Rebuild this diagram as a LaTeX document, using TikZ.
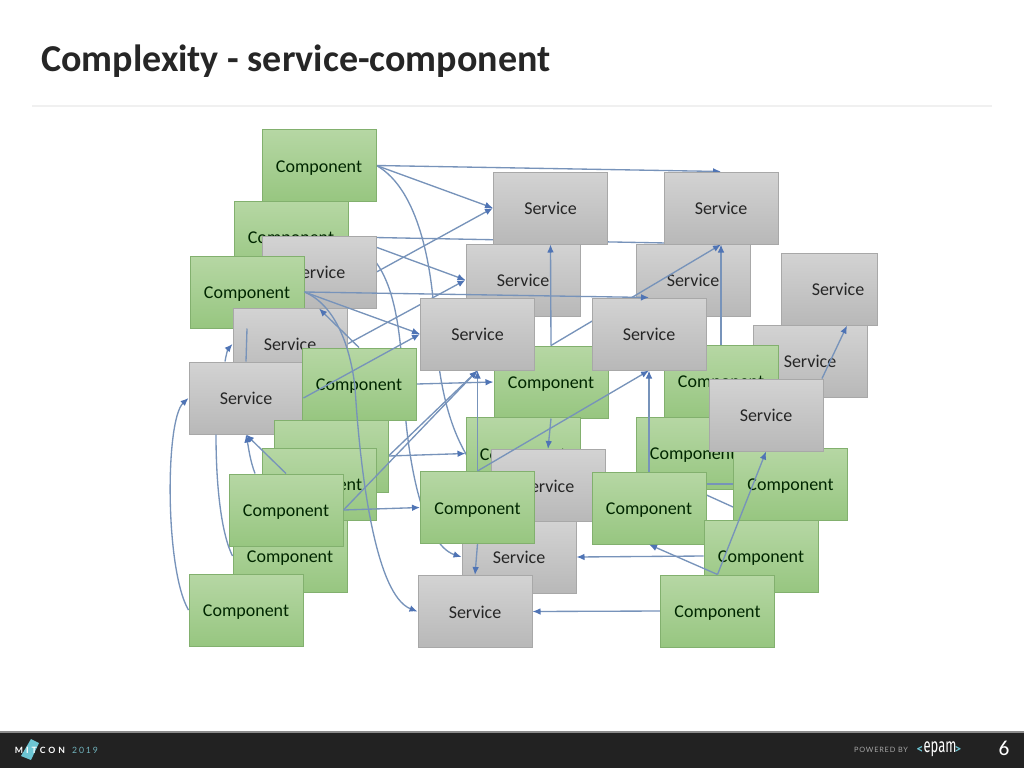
\documentclass[tikz,border=0pt]{standalone}
\usepackage{fontspec}
\setmainfont{Carlito}
\newfontfamily\footfont[LetterSpace=35]{Lato}
\newfontfamily\yearfont[LetterSpace=22]{Lato}
\newfontfamily\poweredfont[LetterSpace=11]{Lato}
\newfontfamily\epamfont[FakeStretch=0.65]{Fira Sans}
\usetikzlibrary{arrows.meta,calc}
\pgfdeclarelayer{paper}
\pgfdeclarelayer{lowlines}
\pgfdeclarelayer{backboxes}
\pgfdeclarelayer{midlines}
\pgfdeclarelayer{toplines}
\pgfsetlayers{paper,lowlines,backboxes,midlines,main,toplines}
\definecolor{linkblue}{HTML}{7793BA}
\definecolor{tipblue}{HTML}{4F74B5}
\definecolor{greentop}{HTML}{B6D7A4}
\definecolor{greenbot}{HTML}{97C680}
\definecolor{greenedge}{HTML}{82B06E}
\definecolor{greytop}{HTML}{D3D3D3}
\definecolor{greybot}{HTML}{B8B8B8}
\definecolor{greyedge}{HTML}{A8A8A8}
\definecolor{barcol}{HTML}{222222}
\definecolor{cyanmark}{HTML}{6CC5D3}
\tikzset{
  x=0.75pt,y=-0.75pt,
  box/.style={rectangle,draw,line width=0.75pt,inner sep=0pt,minimum width=85.5pt,minimum height=54pt,text height=10.8pt,text depth=0.7pt},
  comp/.style={box,draw=greenedge,top color=greentop,bottom color=greenbot,text=black!85!green,font=\fontsize{13.5pt}{16pt}\selectfont},
  serv/.style={box,draw=greyedge,top color=greytop,bottom color=greybot,text=black!85,font=\fontsize{13.5pt}{16pt}\selectfont},
  link/.style={draw=linkblue,line width=1pt},
  arr/.style={link,-{Latex[length=6pt,width=5pt,color=tipblue]}}
}
\begin{document}
\begin{tikzpicture}
\begin{pgfonlayer}{paper}
\path[use as bounding box,fill=white] (0,0) rectangle (1024,768);
\end{pgfonlayer}
% page furniture
\node[anchor=west,inner sep=0pt,text=black!85,font=\bfseries\fontsize{28.5pt}{32pt}\selectfont] (title) at (41,61) {Complexity - service-component};
\coordinate (ruleL) at (32,106);
\coordinate (ruleR) at (992,106);
\draw[line width=1.5pt,black!6] (ruleL) -- (ruleR);
\fill[barcol] (0,732) rectangle (1024,768);
\fill[black!45] (0,731) rectangle (1024,732.5);
\fill[cyanmark] (31,739) -- (39,743) -- (31,760) -- (21,756) -- cycle;
\node[text=white,font=\footfont\bfseries\fontsize{6.5pt}{8pt}\selectfont,inner sep=0pt] (mitcon) at (40,750) {MITCON};
\node[text=cyanmark!75!gray,font=\yearfont\fontsize{6.5pt}{8pt}\selectfont,inner sep=0pt] (year) at (85,750) {2019};
\node[text=black!35,font=\poweredfont\fontsize{5.5pt}{7pt}\selectfont,inner sep=0pt] (powered) at (881,750) {POWERED BY};
\node[text=cyanmark,font=\bfseries\fontsize{10pt}{12pt}\selectfont,inner sep=0pt] (ltip) at (920,750) {<};
\node[text=white,font=\epamfont\fontsize{15pt}{16pt}\selectfont,inner sep=0pt] (epam) at (940,749) {epam};
\node[text=cyanmark,font=\bfseries\fontsize{10pt}{12pt}\selectfont,inner sep=0pt] (rtip) at (958,750) {>};
\node[text=white,font=\fontsize{16pt}{18pt}\selectfont,inner sep=0pt] (page) at (1004,748) {6};
% boxes behind the middle connectors
\begin{pgfonlayer}{backboxes}
\node[serv] (s7) at (693,280) {Service};
\node[comp] (c13) at (693,453) {Component};
\end{pgfonlayer}
% remaining boxes
\node[comp] (c1) at (319,165.5) {Component};
\node[comp] (c2) at (291,237) {Component};
\node[serv] (s1) at (319,272) {Service};
\node[comp] (c3) at (247,292) {Component};
\node[serv] (s2) at (290,344) {Service};
\node[serv] (s3) at (246,398) {Service};
\node[comp] (c4) at (359,384) {Component};
\node[comp] (c5) at (331,456) {Component};
\node[comp] (c6) at (319,484) {Component};
\node[comp] (c8) at (290,556) {Component};
\node[comp] (c7) at (286,510) {Component};
\node[comp] (c9) at (246,610) {Component};
\node[serv] (s6) at (523,280) {Service};
\node[serv] (s4) at (550.5,208) {Service};
\node[serv] (s5) at (721,208) {Service};
\node[serv,minimum width=72pt] (s8) at (829,289) {\hspace*{13.5pt}Service};
\node[serv] (s9) at (810,361) {Service};
\node[comp] (c10) at (551,382) {Component};
\node[comp] (c11) at (721,381) {Component};
\node[serv] (s10) at (477.5,334) {Service};
\node[serv] (s11) at (649,334) {Service};
\node[comp] (c12) at (523,453.5) {Component};
\node[comp] (c14) at (790.5,484) {Component};
\node[serv] (s12) at (766,415) {Service};
\node[serv] (s13) at (548,485.5) {Service};
\node[serv] (s14) at (519,557) {Service};
\node[comp] (c15) at (477.5,507.5) {Component};
\node[comp] (c16) at (649,508) {Component};
\node[comp] (c17) at (761,556) {Component};
\node[comp] (c18) at (717.5,611) {Component};
\node[serv] (s15) at (475,611.5) {Service};
% connectors behind every box
\begin{pgfonlayer}{lowlines}
\draw[arr] (c1.east) -- (s5.north);
\draw[arr] (c1.east) -- (s4.west);
\draw[link] (c1.east) .. controls (420,190) and (431,270) .. (434,310) .. controls (437,370) and (445,430) .. (c15.north);
\draw[arr] (c2.east) -- (s7.north);
\draw[arr] (c2.east) -- (s6.west);
\draw[arr] (s1.east) -- (s4.west);
\draw[arr] ($(s1.east)+(0,-9)$) .. controls (392,285) and (400,320) .. (403,380) .. controls (407,470) and (425,545) .. (s14.west);
\draw[arr] (s2.east) -- (s6.west);
\draw[arr] (c4.east) -- (c10.west);
\draw[arr] (c5.east) -- (c12.west);
\draw[arr] (c5.east) -- (s10.south);
\draw[arr] (c17.west) -- (s14.east);
\draw[arr] (c18.west) -- (s15.east);
\end{pgfonlayer}
% connectors over the rear boxes and behind the front ones
\begin{pgfonlayer}{midlines}
\draw[arr] (c10.north) -- (s5.south);
\draw[arr] ($(s10.north)+(21,0)$) -- (s4.south);
\draw[link,line width=1.2pt] ($(c16.east)+(0,-24)$) -- (c14.west);
\draw[link] ($(c16.east)+(0,-13)$) -- ($(c14.west)+(0,23)$);
\end{pgfonlayer}
% connectors over every box
\begin{pgfonlayer}{toplines}
\draw[arr] (c3.east) -- (s11.north);
\draw[arr] (c3.east) -- (s10.west);
\draw[arr] (c3.east) .. controls (335,305) and (350,345) .. (355,387) .. controls (360,470) and (375,595) .. (s15.west);
\draw[arr] (c4.north) -- (s1.south);
\draw[arr] (s3.east) -- (s10.west);
\draw[arr] (c7.east) -- (s10.south);
\draw[arr] (c7.east) -- (c15.west);
\draw[arr] (c7.north) -- (s3.south);
\draw[arr] ($(c7.north)+(-31,0)$) .. controls (250,460) and (249,450) .. (s3.south);
\draw[arr] (c9.west) .. controls (165,570) and (165,420) .. (s3.west);
\draw[link] ($(s3.south)+(-30,0)$) .. controls (216,490) and (222,535) .. (c8.west);
\draw[arr] ($(s3.north)+(-21,0)$) .. controls (226,355) and (228,349) .. (s2.west);
\draw[link] (s3.north) -- (c3.south);
\draw[arr] (c10.north) -- (s4.south);
\draw[arr] (c11.north) -- (s5.south);
\draw[arr] (c15.north) -- (s10.south);
\draw[arr] (c15.north) -- (s11.south);
\draw[arr] (c16.north) -- (s11.south);
\draw[arr] (c10.south) -- (s13.north);
\draw[arr] (c15.south) -- (s15.north);
\draw[arr] (c18.north) -- (c16.south);
\draw[arr] (c18.north) -- (s12.south);
\draw[arr] ($(s12.north)+(56,0)$) -- ($(s8.south)+(18,0)$);
\end{pgfonlayer}
\end{tikzpicture}
\end{document}
